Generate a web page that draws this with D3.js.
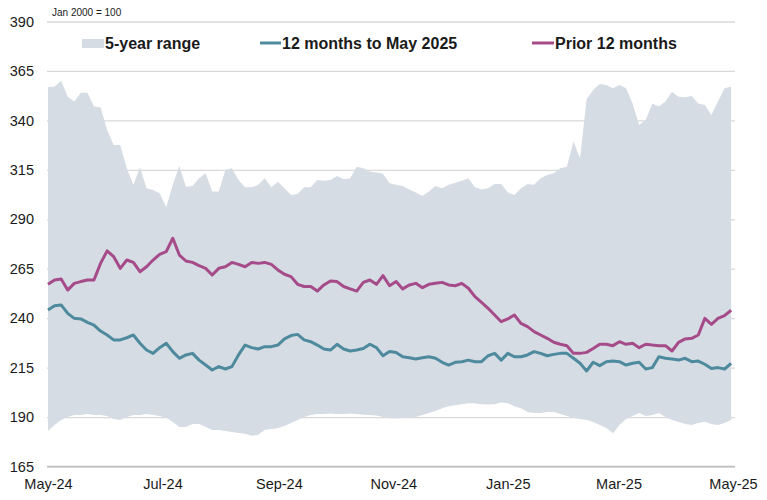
<!DOCTYPE html>
<html lang="en">
<head>
<meta charset="utf-8">
<title>5-year range chart</title>
<script src="https://d3js.org/d3.v7.min.js"></script>
<style>
  body { margin: 0; background: #fff; }
</style>
</head>
<body>
<div id="canvas"></div>
<script type="text/javascript">
// twice-weekly observations (every 84 hours), May 2024 - Apr 2025
const dates = d3.timeHour.range(new Date(2024, 4, 1), new Date(2025, 4, 1, 12), 84);

const rangeHigh = [356.7, 357.1, 360.1, 352, 349.5, 354, 354, 347, 346.6, 335.2,
  327.6, 327.6, 315.8, 307.4, 316.3, 305.7, 304.8, 303.1, 296.1, 307.4,
  317, 306.5, 306.8, 310.7, 313.3, 304, 304, 314.9, 315.8, 309.9,
  306.2, 306.2, 307.4, 310.7, 306.2, 309, 305.7, 302.3, 302.8, 306.2,
  306.2, 309.9, 309.5, 309.9, 311.9, 310.2, 310.7, 316.6, 315.8, 314.1,
  313.6, 313, 308.2, 307.4, 306.8, 305.1, 303.5, 301.8, 304, 306.8,
  305.7, 307.4, 308.5, 309.5, 310.7, 306.2, 305.1, 305.7, 307.9, 307.9,
  303.5, 302.3, 305.7, 307.9, 307.4, 310.7, 312.4, 313.3, 315.8, 316.6,
  329.3, 320.8, 350.7, 355.4, 358.4, 357.9, 356.2, 357.9, 356.2, 348.6,
  337.7, 340.2, 348.6, 347, 349.5, 354.5, 352, 351.7, 352.3, 348.6,
  347.8, 342.7, 349.5, 356.2, 357.1];
const rangeLow = [183, 186, 188.5, 190, 191, 191, 191.5, 191, 191, 190.5,
  189, 188.5, 190, 191, 191, 191.5, 191, 190.5, 189.7, 187.5,
  185, 185, 186.5, 186.5, 185, 183.5, 183.5, 183, 182.5, 182,
  181.5, 180.5, 181, 183.5, 184, 184.3, 185.5, 187, 188.5, 190,
  191, 191.6, 191.6, 191.8, 191.6, 191.6, 191.8, 191.6, 191.2, 191,
  190.8, 190, 189.4, 189.4, 189.6, 189.4, 190, 191, 192, 193,
  194.5, 195.5, 196, 196.5, 197, 196.8, 196.5, 196.3, 196.5, 197.3,
  197, 195.5, 194.5, 192.5, 192, 192, 192.5, 192.6, 191.5, 190.5,
  189.5, 189, 188.5, 187.5, 186, 184.5, 181.8, 186, 189, 190.5,
  192, 190.5, 191, 192, 190, 188.5, 187.5, 186.5, 186, 187,
  187.6, 186.5, 186, 187, 188.5];
const last12 = [244.1, 246.3, 246.7, 242.4, 239.9, 239.6, 237.9, 236.5, 233.5, 231.5,
  229, 229, 230.1, 231.5, 227.3, 223.9, 222.2, 225.1, 227.3, 223.1,
  219.7, 221.4, 222.2, 218.8, 216.3, 213.8, 215.5, 214.3, 215.5, 221.4,
  226.4, 225.1, 224.4, 225.6, 225.6, 226.4, 229.5, 231.2, 231.8, 229,
  228.1, 226.4, 224.4, 223.9, 226.8, 224.4, 223.4, 223.9, 224.7, 226.8,
  225.1, 221, 223.1, 222.6, 220.5, 220, 219.4, 220, 220.5, 219.7,
  217.7, 216.3, 217.7, 218, 218.8, 218, 218, 221, 222.2, 218.8,
  222.2, 220.5, 220.5, 221.4, 223.1, 222.2, 221, 221.7, 222.2, 222.2,
  219.7, 217.2, 213.3, 217.7, 216, 218, 218.3, 218, 216.3, 217.2,
  217.7, 214.3, 215, 220.5, 219.7, 219.4, 218.8, 219.7, 218, 218.3,
  216.7, 214.6, 215, 214.3, 217.2];
const prior12 = [257.1, 259.3, 259.8, 254.2, 257.6, 258.5, 259.3, 259.3, 267.7, 274,
  271.1, 265.2, 269.4, 268.2, 263.5, 266, 269.4, 272.3, 273.6, 280.4,
  271.9, 268.9, 268.2, 266.6, 265.2, 261.8, 265.2, 266, 268.2, 267.2,
  266, 268.2, 267.7, 268.2, 267.2, 264.4, 262.2, 261, 257.1, 256,
  256, 253.7, 256.8, 258.8, 258.5, 256, 254.8, 253.7, 258.1, 259.3,
  257.1, 261.5, 256.4, 258.5, 254.8, 256.8, 257.6, 255.4, 257.1, 257.6,
  258.1, 256.8, 256.4, 257.6, 255.1, 250.9, 248, 245, 241.6, 238.2,
  239.6, 241.6, 237.4, 235.7, 233.2, 231.5, 229.8, 227.8, 226.8, 226.1,
  222.2, 222.2, 222.7, 224.7, 226.8, 226.8, 226.1, 228.1, 226.8, 227.3,
  225.1, 226.8, 226.4, 226.1, 226.1, 223.4, 227.8, 229.5, 229.8, 231.5,
  239.9, 236.9, 239.9, 241.3, 244];

const yTicks = [165, 190, 215, 240, 265, 290, 315, 340, 365, 390];
const legendLabels = ["5-year range", "12 months to May 2025", "Prior 12 months"];

const width = 767, height = 500;
const rangeColor = "#d6dce4", tealColor = "#4e8a9d", plumColor = "#a64b89";

const x = d3.scaleTime()
    .domain([new Date(2024, 4, 1), new Date(2025, 4, 1)])
    .range([48, 733]);
const y = d3.scaleLinear()
    .domain([165, 390])
    .range([466.5, 21.5]);

const svg = d3.select("#canvas").append("svg")
    .attr("width", width)
    .attr("height", height)
    .attr("font-family", "'Liberation Sans', Arial, sans-serif");

// gridlines
svg.append("g")
    .attr("transform", "translate(47,0)")
    .call(d3.axisLeft(y).tickValues(yTicks).tickSize(-688).tickFormat(""))
    .call(g => g.select(".domain").remove())
    .call(g => g.selectAll("line").attr("stroke", "#d9d9d9").attr("stroke-width", 1.3));

// y labels
svg.append("g")
    .attr("transform", "translate(34,0)")
    .call(d3.axisLeft(y).tickValues(yTicks).tickSize(0).tickPadding(0))
    .call(g => g.select(".domain").remove())
    .call(g => g.selectAll("text").attr("font-size", 14.5).attr("fill", "#1a1a1a")
        .attr("font-family", "'Liberation Sans', Arial, sans-serif"));

const band = dates.map((d, i) => ({date: d, lo: rangeLow[i], hi: rangeHigh[i]}));

svg.append("path")
    .datum(band)
    .attr("fill", rangeColor)
    .attr("d", d3.area().x(d => x(d.date)).y0(d => y(d.lo)).y1(d => y(d.hi)));

const line = d3.line().x((d, i) => x(dates[i])).y(d => y(d));

svg.append("path")
    .datum(last12)
    .attr("fill", "none")
    .attr("stroke", tealColor)
    .attr("stroke-width", 3)
    .attr("stroke-linejoin", "round")
    .attr("d", line);

svg.append("path")
    .datum(prior12)
    .attr("fill", "none")
    .attr("stroke", plumColor)
    .attr("stroke-width", 3)
    .attr("stroke-linejoin", "round")
    .attr("d", line);

// x axis
svg.append("g")
    .attr("transform", "translate(0,466.5)")
    .call(d3.axisBottom(x).ticks(d3.timeMonth.every(2)).tickFormat(d3.timeFormat("%b-%y")).tickSize(0).tickPadding(12))
    .call(g => g.select(".domain").attr("stroke", "#bfbfbf").attr("stroke-width", 1.3).attr("d", "M47,0H735"))
    .call(g => g.selectAll("text").attr("font-size", 14.5).attr("fill", "#1a1a1a")
        .attr("font-family", "'Liberation Sans', Arial, sans-serif"));

svg.append("text")
    .attr("x", 52)
    .attr("y", 16)
    .attr("font-size", 10)
    .attr("fill", "#1a1a1a")
    .text("Jan 2000 = 100");

// legend
const legend = svg.append("g").attr("font-size", 16).attr("font-weight", "bold").attr("fill", "#1a1a1a");
legend.append("rect").attr("x", 82).attr("y", 39).attr("width", 22).attr("height", 9).attr("fill", rangeColor);
legend.append("text").attr("x", 105).attr("y", 49).text(legendLabels[0]);
legend.append("line").attr("x1", 260).attr("x2", 281).attr("y1", 43).attr("y2", 43).attr("stroke", tealColor).attr("stroke-width", 3);
legend.append("text").attr("x", 282).attr("y", 49).text(legendLabels[1]);
legend.append("line").attr("x1", 532).attr("x2", 554).attr("y1", 43).attr("y2", 43).attr("stroke", plumColor).attr("stroke-width", 3);
legend.append("text").attr("x", 555).attr("y", 49).text(legendLabels[2]);
</script>
</body>
</html>
